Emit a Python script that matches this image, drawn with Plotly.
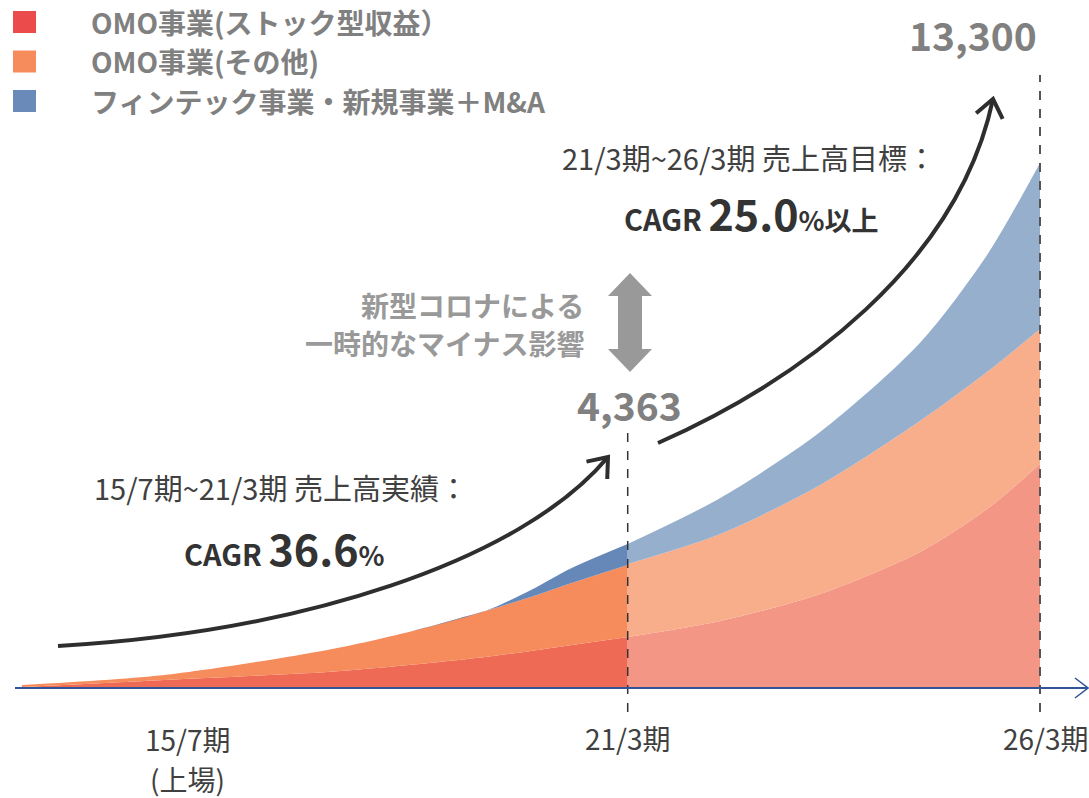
import math
import plotly.graph_objects as go

# ---------------- data (illustrative index units) ----------------
# period position: 15/7期 = 0 ... 26/3期 = 10
actual_x = [0.0, 1.4, 3.0, 3.8, 4.55, 5.0, 5.4, 5.95]
actual_stock = [1, 8, 16, 23, 31, 37, 43, 51]          # OMO事業(ストック型収益)
actual_other = [2, 5, 22, 33, 46, 54, 62, 72]          # OMO事業(その他)
actual_fintech = [0, 0, 0, 0, 0, 7, 15, 21]            # フィンテック事業・新規事業＋M&A

plan_x = [5.95, 6.86, 7.84, 8.82, 9.48, 10.0]
plan_stock = [51, 67, 94, 136, 179, 224]
plan_other = [73, 87, 109, 131, 137, 135]
plan_fintech = [20, 36, 53, 78, 117, 166]

series_names = ["OMO事業(ストック型収益）", "OMO事業(その他)", "フィンテック事業・新規事業＋M&A"]
legend_colors = ["#EC4B4B", "#F68C5C", "#6A8BBA"]
actual_colors = ["#EF6A55", "#F68C5B", "#6688B8"]
plan_colors = ["#F49686", "#F8AD8B", "#95AFCC"]

tick_labels = ["15/7期", "(上場)", "21/3期", "26/3期"]
value_21 = "4,363"
value_26 = "13,300"

OFF = 0                      # page body margin removed via post_script
W, H = 1089 - OFF, 798 - OFF
FONT = "Noto Sans CJK JP"


def P(px, py):
    return (px - OFF) / W, 1 - (py - OFF) / H


fig = go.Figure()

for group, xs, layers, cols in [
    ("actual", actual_x, [actual_stock, actual_other, actual_fintech], actual_colors),
    ("plan", plan_x, [plan_stock, plan_other, plan_fintech], plan_colors),
]:
    for name, ys, col in zip(series_names, layers, cols):
        fig.add_trace(go.Scatter(
            x=xs, y=ys, name=name, stackgroup=group, mode="lines",
            line=dict(width=0, shape="spline", smoothing=0.8, color=col),
            fillcolor=col, showlegend=False, hoverinfo="skip",
        ))

shapes = []
annotations = []


def path_paper(points, close=False):
    s = ""
    for i, (px, py) in enumerate(points):
        x, y = P(px, py)
        s += ("M" if i == 0 else "L") + f"{x:.5f},{y:.5f} "
    if close:
        s += "Z"
    return s


def bezier_path(p0, p1, p2, p3):
    a = P(*p0); b = P(*p1); c = P(*p2); d = P(*p3)
    return f"M{a[0]:.5f},{a[1]:.5f} C{b[0]:.5f},{b[1]:.5f} {c[0]:.5f},{c[1]:.5f} {d[0]:.5f},{d[1]:.5f}"


def arrow_head(tip, frm, length=22, ang=38):
    dx, dy = frm[0] - tip[0], frm[1] - tip[1]
    n = math.hypot(dx, dy)
    dx, dy = dx / n, dy / n
    pts = []
    for s in (-1, 1):
        a = math.radians(ang * s)
        rx = dx * math.cos(a) - dy * math.sin(a)
        ry = dx * math.sin(a) + dy * math.cos(a)
        pts.append((tip[0] + rx * length, tip[1] + ry * length))
    return [pts[0], tip, pts[1]]


DARK = "#2E2E2E"
# growth arrows
left = [(58, 646), (300, 632), (520, 562), (608, 457)]
right = [(658, 443), (800, 380), (958, 265), (993, 99)]
for c in (left, right):
    shapes.append(dict(type="path", xref="paper", yref="paper", path=bezier_path(*c),
                       line=dict(color=DARK, width=4)))
    shapes.append(dict(type="path", xref="paper", yref="paper",
                       path=path_paper(arrow_head(c[3], c[2])), line=dict(color=DARK, width=4)))

# dashed verticals
shapes.append(dict(type="line", xref="x", yref="paper", x0=actual_x[-1], x1=actual_x[-1],
                   y0=P(0, 712)[1], y1=P(0, 428)[1], line=dict(color="#333333", width=1.5, dash="dash")))
shapes.append(dict(type="line", xref="x", yref="paper", x0=plan_x[-1], x1=plan_x[-1],
                   y0=P(0, 712)[1], y1=P(0, 75)[1], line=dict(color="#555555", width=2, dash="dash")))

# x axis line with open arrow
AX = "#2F5597"
shapes.append(dict(type="path", xref="paper", yref="paper",
                   path=path_paper([(15, 688), (1088, 688)]), line=dict(color=AX, width=2)))
shapes.append(dict(type="path", xref="paper", yref="paper",
                   path=path_paper([(1075, 678), (1088, 688), (1075, 698)]), line=dict(color=AX, width=1.5)))

# gray double arrow
g = [(630, 273), (652, 296), (642, 296), (642, 349), (652, 349), (630, 372),
     (608, 349), (618, 349), (618, 296), (608, 296)]
shapes.append(dict(type="path", xref="paper", yref="paper", path=path_paper(g, close=True),
                   fillcolor="#999999", line=dict(width=0)))

# legend squares
for i, col in enumerate(legend_colors):
    cy = 22 + i * 39.5
    x0, y0 = P(13, cy - 11)
    x1, y1 = P(36, cy + 11)
    shapes.append(dict(type="rect", xref="paper", yref="paper", x0=x0, x1=x1, y0=y1, y1=y0,
                       fillcolor=col, line=dict(width=0)))
    lx, ly = P(89, cy)
    annotations.append(dict(xref="paper", yref="paper", x=lx, y=ly, xanchor="left", yanchor="middle",
                            text=f"<b>{series_names[i]}</b>", showarrow=False,
                            font=dict(family=FONT, size=28, color="#808080")))


def txt(px, py, text, size, color, xanchor="center", bold=False):
    x, y = P(px, py)
    annotations.append(dict(xref="paper", yref="paper", x=x, y=y, xanchor=xanchor, yanchor="middle",
                            text=(f"<b>{text}</b>" if bold else text), showarrow=False,
                            font=dict(family=FONT, size=size, color=color)))


txt(973, 34, value_26, 39, "#808080", bold=True)
txt(629, 404, value_21, 39, "#808080", bold=True)
txt(586, 305, "新型コロナによる", 28, "#999999", xanchor="right", bold=True)
txt(586, 343, "一時的なマイナス影響", 28, "#999999", xanchor="right", bold=True)

txt(749, 157, "21/3期~26/3期 売上高目標：", 29, "#404040")
txt(752, 212, "CAGR <span style='font-size:43px'>25.0</span><span style='font-size:27px'>%以上</span>",
    29, "#333333", bold=True)
txt(281, 487, "15/7期~21/3期 売上高実績：", 29, "#404040")
txt(284, 547, "CAGR <span style='font-size:43px'>36.6</span><span style='font-size:27px'>%</span>",
    29, "#333333", bold=True)

# x labels
txt(188, 739, tick_labels[0], 28, "#404040")
txt(188, 779, tick_labels[1], 28, "#404040")
txt(628, 738, tick_labels[2], 28, "#404040")
txt(1046, 738, tick_labels[3], 28, "#404040")

# data axes mapped so that 15/7期 sits at page x=22 and 26/3期 at page x=1040
x_lo = (OFF - 22) / 101.8
x_hi = (OFF + W - 22) / 101.8
fig.update_layout(
    width=W, height=H, margin=dict(l=0, r=0, t=0, b=0),
    paper_bgcolor="white", plot_bgcolor="white",
    xaxis=dict(range=[x_lo, x_hi], visible=False, fixedrange=True),
    yaxis=dict(range=[688 - (OFF + H), 688 - OFF], visible=False, fixedrange=True),
    shapes=shapes, annotations=annotations, showlegend=False,
)
fig.write_html("out.html",
               config={"displayModeBar": False, "staticPlot": True},
               post_script="document.body.style.margin='0';document.body.style.overflow='hidden';")
